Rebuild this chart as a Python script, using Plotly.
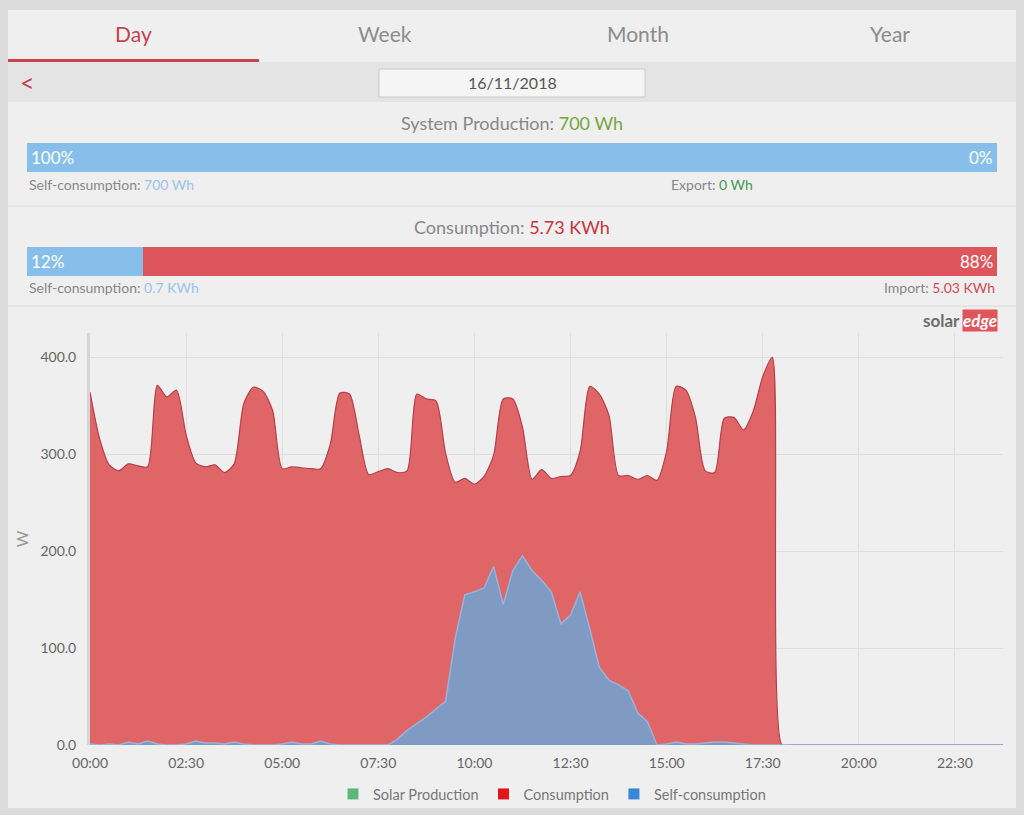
import pandas as pd
import plotly.graph_objects as go

# 15 minute readings for 16/11/2018
times = pd.date_range("2018-11-16 00:00", periods=96, freq="15min")

consumption = [364, 316, 289, 283, 290, 288, 287, 371, 359, 366,
               320, 291, 287, 289, 281, 290, 352, 369, 365, 345,
               285, 287, 286, 285, 285, 310, 363, 362, 320, 279,
               282, 285, 281, 283, 362, 357, 355, 301, 271, 275,
               269, 277, 299, 357, 357, 328, 274, 284, 275, 277,
               278, 303, 370, 362, 340, 278, 278, 274, 278, 273,
               303, 370, 366, 338, 283, 281, 337, 338, 325, 344,
               380, 400, 0, 0, 0, 0, 0, 0, 0, 0,
               0, 0, 0, 0, 0, 0, 0, 0, 0, 0,
               0, 0, 0, 0, 0, 0]

self_consumption = [1, 0, 1, 0, 3, 1, 4, 1, 0, 0,
                    1, 4, 2, 2, 1, 3, 1, 0, 0, 0,
                    1, 3, 1, 1, 4, 1, 0, 0, 0, 0,
                    0, 0, 6, 15, 22, 29, 37, 45, 110, 155,
                    158, 162, 184, 145, 180, 195, 180, 170, 158, 125,
                    134, 158, 120, 80, 67, 62, 56, 33, 24, 0,
                    1, 3, 1, 1, 2, 3, 3, 2, 1, 0,
                    0, 0, 0, 0, 0, 0, 0, 0, 0, 0,
                    0, 0, 0, 0, 0, 0, 0, 0, 0, 0,
                    0, 0, 0, 0, 0, 0]

# all production was used on site
solar_production = list(self_consumption)

tabs = ["Day", "Week", "Month", "Year"]
date_label = "16/11/2018"

production_wh = 700
prod_self_wh = 700
export_wh = 0
prod_split = [100, 0]

consumption_kwh = 5.73
cons_self_kwh = 0.7
import_kwh = 5.03
cons_split = [12, 88]

W, H = 1024, 815
FONT = "Lato, 'Noto Sans', sans-serif"


def px(x):
    return x / W


def py(y):
    return 1 - y / H


fig = go.Figure()

# main chart
fig.add_trace(go.Scatter(x=times, y=solar_production, fill="tozeroy", mode="lines",
                         line=dict(color="#5cb85c", width=1), fillcolor="#7cc48a",
                         showlegend=False, hoverinfo="skip"))
fig.add_trace(go.Scatter(x=times, y=consumption, fill="tozeroy", mode="lines",
                         line=dict(color="#b3404a", width=1.2, shape="spline", smoothing=0.7),
                         fillcolor="#e06567", showlegend=False))
fig.add_trace(go.Scatter(x=times, y=self_consumption, fill="tozeroy", mode="lines",
                         line=dict(color="#9ab3da", width=1.5),
                         fillcolor="#7f9bc4", showlegend=False))

# legend entries
for name, col in [("Solar Production", "#5cb87a"), ("Consumption", "#e0161b"),
                  ("Self-consumption", "#3a87d8")]:
    fig.add_trace(go.Scatter(x=[None], y=[None], mode="markers", name=name,
                             marker=dict(symbol="square", size=11, color=col)))

# percentage bars
bar_cols = ["#88bfea", "#df555c"]
for i, val in enumerate(prod_split):
    fig.add_trace(go.Bar(x=[val], y=[0], orientation="h", width=1, marker_color=bar_cols[i],
                         marker_line_width=0, xaxis="x2", yaxis="y2", showlegend=False,
                         hoverinfo="skip"))
for i, val in enumerate(cons_split):
    fig.add_trace(go.Bar(x=[val], y=[0], orientation="h", width=1, marker_color=bar_cols[i],
                         marker_line_width=0, xaxis="x3", yaxis="y3", showlegend=False,
                         hoverinfo="skip"))

hidden = dict(visible=False, fixedrange=True)

fig.update_layout(
    width=W, height=H,
    margin=dict(l=0, r=0, t=0, b=0),
    paper_bgcolor="#dcdcdc",
    plot_bgcolor="rgba(0,0,0,0)",
    font=dict(family=FONT, color="#555"),
    barmode="stack",
    xaxis=dict(domain=[px(90), px(1003)], type="date",
               range=[times[0], times[-1]], tick0=times[0], dtick=9000000,
               tickformat="%H:%M", showgrid=True, gridcolor="#dedede", gridwidth=1,
               zeroline=False, showline=False, ticks="", automargin=False,
               ticklabelstandoff=8,
               tickfont=dict(size=14, color="#666")),
    yaxis=dict(domain=[py(745), py(333)], range=[0, 425], dtick=100, tickformat=".1f",
               showgrid=True, gridcolor="#dedede", zeroline=False,
               showline=True, linecolor="#d6d6d6", linewidth=3, ticks="",
               automargin=False, ticklabelstandoff=8,
               tickfont=dict(size=14, color="#666"),
               title=dict(text="W", font=dict(size=16, color="#999"), standoff=8)),
    xaxis2=dict(domain=[px(27), px(997)], range=[0, 100], anchor="y2", **hidden),
    yaxis2=dict(domain=[py(172), py(143)], range=[-0.5, 0.5], anchor="x2", **hidden),
    xaxis3=dict(domain=[px(27), px(997)], range=[0, 100], anchor="y3", **hidden),
    yaxis3=dict(domain=[py(276), py(247)], range=[-0.5, 0.5], anchor="x3", **hidden),
    legend=dict(orientation="h", x=px(552), xanchor="center", y=py(794), yanchor="middle",
                traceorder="normal",
                font=dict(size=14.5, color="#777"), bgcolor="rgba(0,0,0,0)",
                itemclick=False),
)

# page furniture
shapes = [
    dict(type="rect", x0=px(8), x1=px(1016), y0=py(808), y1=py(10),
         fillcolor="#efefef", line_width=0, layer="below"),
    dict(type="rect", x0=px(8), x1=px(1016), y0=py(102), y1=py(62),
         fillcolor="#e4e4e4", line_width=0, layer="below"),
    dict(type="rect", x0=px(8), x1=px(259), y0=py(62), y1=py(59),
         fillcolor="#c8444f", line_width=0, layer="below"),
    dict(type="rect", x0=px(379), x1=px(645), y0=py(97), y1=py(69),
         fillcolor="#f5f5f5", line=dict(color="#c9c9c9", width=1), layer="below"),
    dict(type="line", x0=px(8), x1=px(1016), y0=py(206), y1=py(206),
         line=dict(color="#dadada", width=1), layer="below"),
    dict(type="line", x0=px(8), x1=px(1016), y0=py(306), y1=py(306),
         line=dict(color="#dadada", width=1), layer="below"),
]
for s in shapes:
    s.update(xref="paper", yref="paper")
fig.update_layout(shapes=shapes)


def note(text, x, y, size=13, color="#888", xanchor="center", **kw):
    fig.add_annotation(text=text, x=px(x), y=py(y), xref="paper", yref="paper",
                       showarrow=False, xanchor=xanchor, yanchor="middle",
                       font=dict(size=size, color=color, family=FONT), **kw)


tab_x = [133, 385, 638, 890]
for i, t in enumerate(tabs):
    note(t, tab_x[i], 34, size=21, color="#c4424f" if i == 0 else "#8c8c8c")

note("<", 27, 82, size=25, color="#c4424f")
note(date_label, 512, 83, size=16, color="#555")

note(f"System Production: <span style='color:#76a53e'>{production_wh} Wh</span>",
     512, 123, size=18)
note(f"Self-consumption: <span style='color:#9cc4e8'>{prod_self_wh} Wh</span>",
     27, 184, size=14, xanchor="left")
note(f"Export: <span style='color:#3f9a55'>{export_wh} Wh</span>",
     712, 184, size=14)

note(f"Consumption: <span style='color:#c8333e'>{consumption_kwh} KWh</span>",
     512, 227, size=18)
note(f"Self-consumption: <span style='color:#9cc4e8'>{cons_self_kwh} KWh</span>",
     27, 288, size=14, xanchor="left")
note(f"Import: <span style='color:#d04a55'>{import_kwh} KWh</span>",
     997, 288, size=14, xanchor="right")

# percentage labels on the bars
for ax, split in [("2", prod_split), ("3", cons_split)]:
    fig.add_annotation(text=f"{split[0]}%", x=0, y=0, xref="x" + ax, yref="y" + ax,
                       xanchor="left", xshift=2, showarrow=False,
                       font=dict(size=17, color="white", family=FONT))
    fig.add_annotation(text=f"{split[1]}%", x=100, y=0, xref="x" + ax, yref="y" + ax,
                       xanchor="right", xshift=-2, showarrow=False,
                       font=dict(size=17, color="white", family=FONT))

# solaredge logo
note("<b>solar</b>", 962, 321, size=17, color="#6e6e6e", xanchor="right")
note("<b><i>edge</i></b>", 962, 321, size=17, color="white", xanchor="left",
     bgcolor="#e0545b", borderpad=0)

fig.write_html("out.html", config={"displayModeBar": False},
               post_script="document.body.style.margin='0';")
